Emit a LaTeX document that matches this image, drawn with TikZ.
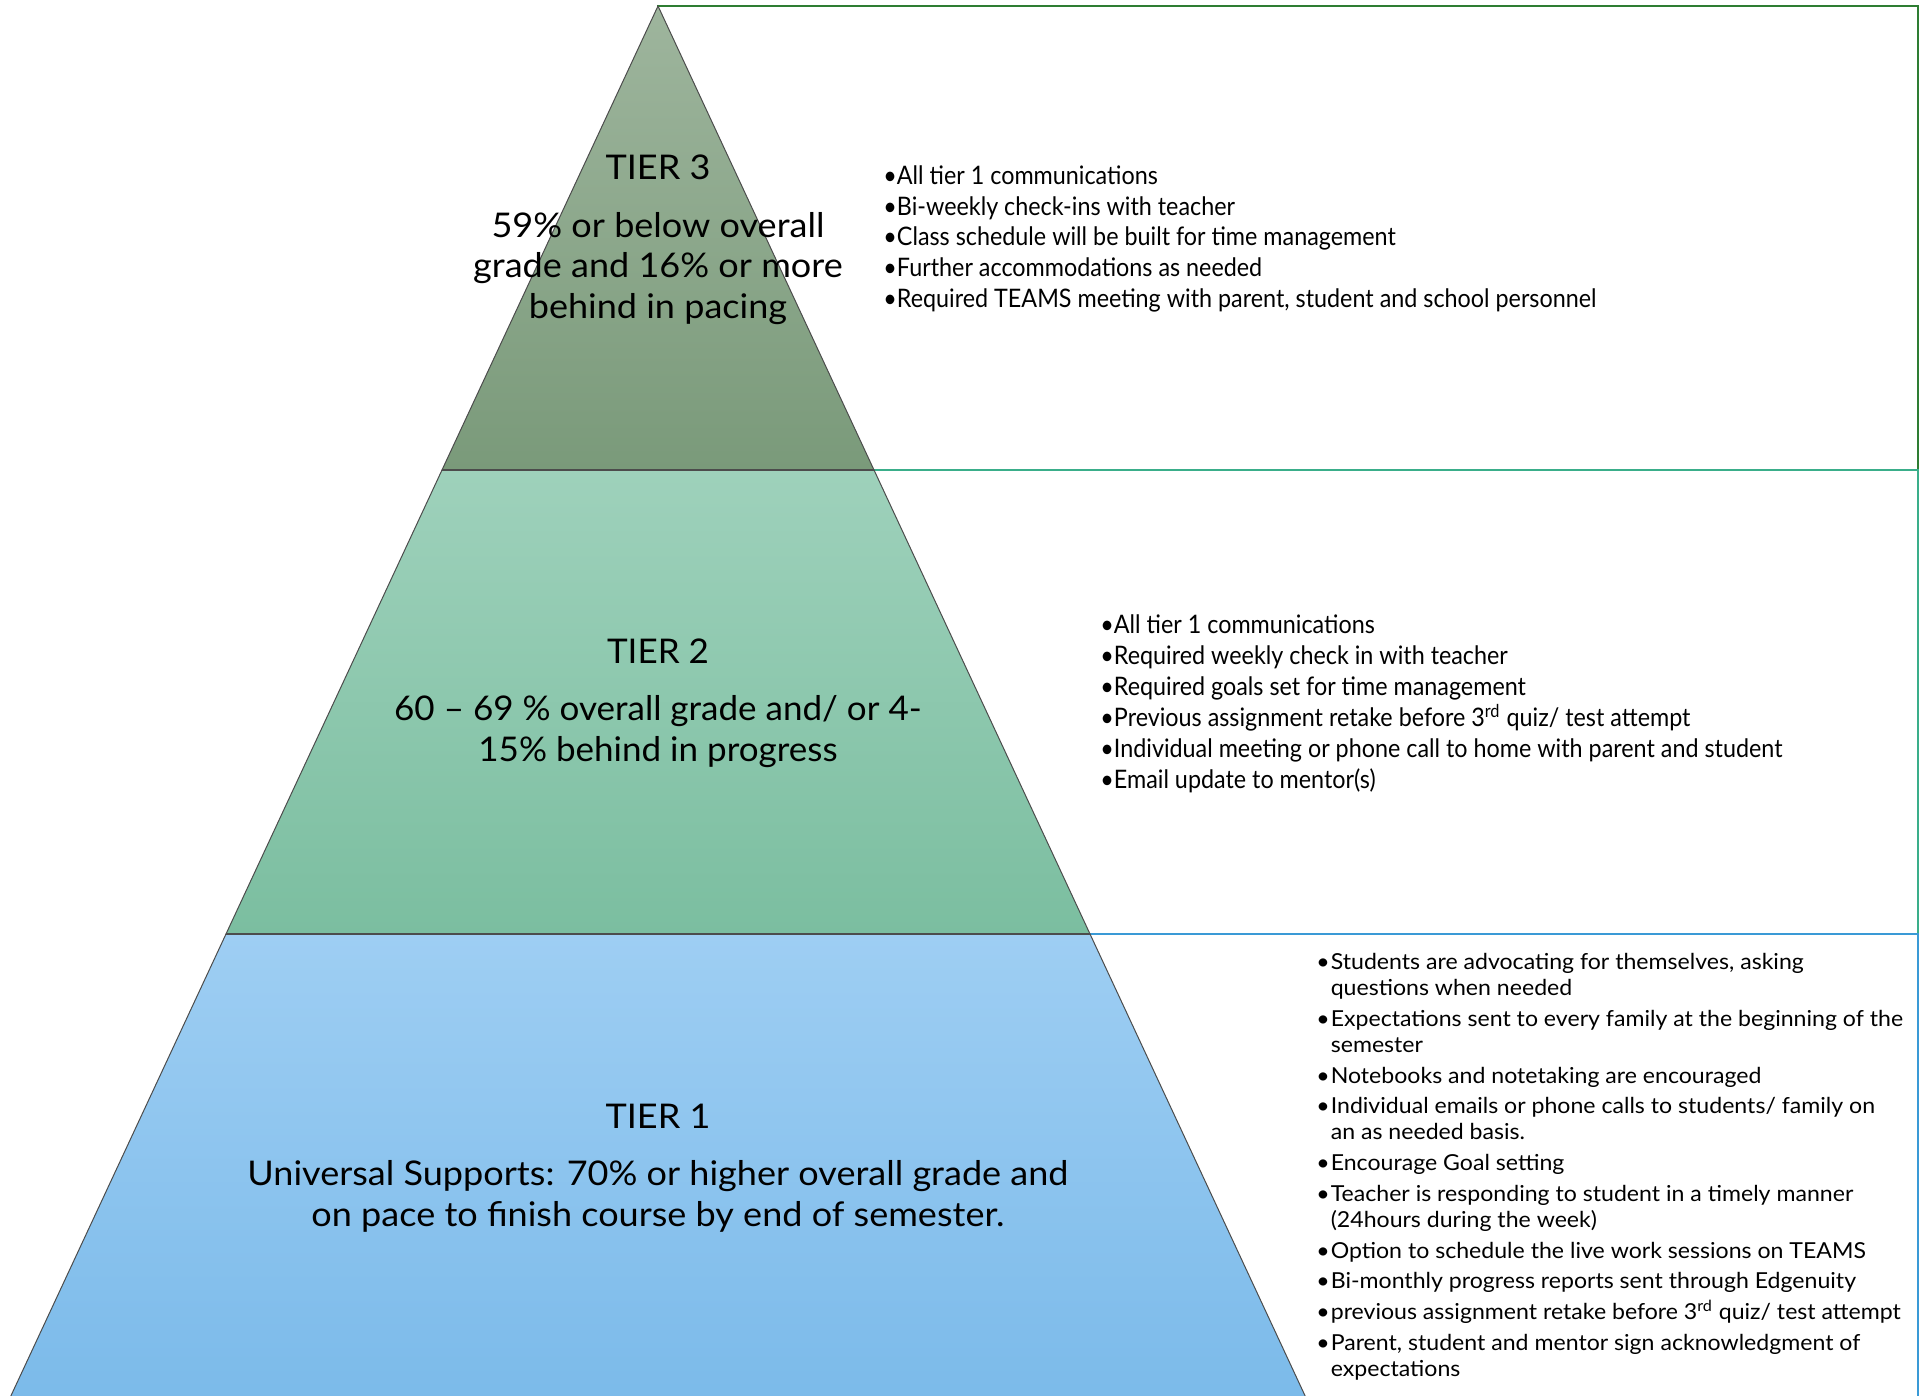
\documentclass[tikz,border=0pt]{standalone}
\usepackage{fontspec}
\setmainfont{Lato}
\newfontfamily\tierfont[FakeStretch=1.06]{Lato}
\newfontfamily\tiertwofont[FakeStretch=1.03]{Lato}
\newfontfamily\narrowfont[FakeStretch=0.915]{Lato}
\newfontfamily\listfont[FakeStretch=1.05]{Lato}
\usetikzlibrary{positioning}

\definecolor{tierthreetop}{HTML}{9EB59D}
\definecolor{tierthreebot}{HTML}{7A9A7A}
\definecolor{tiertwotop}{HTML}{9ED1BB}
\definecolor{tiertwobot}{HTML}{7BBEA0}
\definecolor{tieronetop}{HTML}{9ECEF3}
\definecolor{tieronebot}{HTML}{79B9E9}
\definecolor{boxthree}{HTML}{2E7D32}
\definecolor{boxtwo}{HTML}{3AAE8A}
\definecolor{boxone}{HTML}{3A9AD6}

\begin{document}
\begin{tikzpicture}[x=0.5pt, y=-0.5pt,
  tier/.style={inner sep=0pt, align=center, font=\tierfont\fontsize{17}{20.25}\selectfont},
  bullets/.style={inner sep=0pt, anchor=north west, align=left},
  layer/.style={draw=black!70, line width=0.5pt}]

\useasboundingbox (0,0) rectangle (1923,1396);
\clip (0,0) rectangle (1923,1396);

\draw [boxthree, line width=0.8pt] (658,6) rectangle (1918,470);
\draw [boxtwo, line width=0.8pt] (658,470) rectangle (1918,934);
\draw [boxone, line width=0.8pt] (658,934) rectangle (1918,1430);

\coordinate (apex) at (658,6);
\coordinate (t3-l) at (442,470);
\coordinate (t3-r) at (874,470);
\coordinate (t2-l) at (226,934);
\coordinate (t2-r) at (1090,934);
\coordinate (t1-l) at (-5,1430);
\coordinate (t1-r) at (1321,1430);

\draw [layer, top color=tieronetop, bottom color=tieronebot] (t2-l) -- (t2-r) -- (t1-r) -- (t1-l) -- cycle;
\draw [layer, top color=tiertwotop, bottom color=tiertwobot] (t3-l) -- (t3-r) -- (t2-r) -- (t2-l) -- cycle;
\draw [layer, top color=tierthreetop, bottom color=tierthreebot] (apex) -- (t3-r) -- (t3-l) -- cycle;
\draw [black!70, line width=1pt] (t3-l) -- (t3-r) (t2-l) -- (t2-r);

\node [tier] (tier3) at (658,240) {TIER 3\\[8.5pt]59\% or below overall\\grade and 16\% or more\\behind in pacing};
\node [tier, font=\tiertwofont\fontsize{17}{20.25}\selectfont] (tier2) at (658,703) {TIER 2\\[8.5pt]60 – 69 \% overall grade and/ or 4-\\15\% behind in progress};
\node [tier] (tier1) at (658,1168) {TIER 1\\[8.5pt]Universal Supports: 70\% or higher overall grade and\\on pace to finish course by end of semester.};

\node [bullets, font=\narrowfont\fontsize{12.75}{15.33}\selectfont] (list3) at (883,165.5) {%
•All tier 1 communications\\
•Bi-weekly check-ins with teacher\\
•Class schedule will be built for time management\\
•Further accommodations as needed\\
•Required TEAMS meeting with parent, student and school personnel};

\node [bullets, font=\narrowfont\fontsize{12.75}{15.45}\selectfont] (list2) at (1100,614.5) {%
•All tier 1 communications\\
•Required weekly check in with teacher\\
•Required goals set for time management\\
•Previous assignment retake before 3\textsuperscript{rd} quiz/ test attempt\\
•Individual meeting or phone call to home with parent and student\\
•Email update to mentor(s)};

\node [bullets, font=\listfont\fontsize{11}{12.95}\selectfont] (list1) at (1316,953) {%
•\kern0.5pt Students are advocating for themselves, asking\\
\hphantom{•\kern0.5pt}questions when needed\\[2.45pt]
•\kern0.5pt Expectations sent to every family at the beginning of the\\
\hphantom{•\kern0.5pt}semester\\[2.45pt]
•\kern0.5pt Notebooks and notetaking are encouraged\\[2.45pt]
•\kern0.5pt Individual emails or phone calls to students/ family on\\
\hphantom{•\kern0.5pt}an as needed basis.\\[2.45pt]
•\kern0.5pt Encourage Goal setting\\[2.45pt]
•\kern0.5pt Teacher is responding to student in a timely manner\\
\hphantom{•\kern0.5pt}(24hours during the week)\\[2.45pt]
•\kern0.5pt Option to schedule the live work sessions on TEAMS\\[2.45pt]
•\kern0.5pt Bi-monthly progress reports sent through Edgenuity\\[2.45pt]
•\kern0.5pt previous assignment retake before 3\textsuperscript{rd} quiz/ test attempt\\[2.45pt]
•\kern0.5pt Parent, student and mentor sign acknowledgment of\\
\hphantom{•\kern0.5pt}expectations};

\end{tikzpicture}
\end{document}
